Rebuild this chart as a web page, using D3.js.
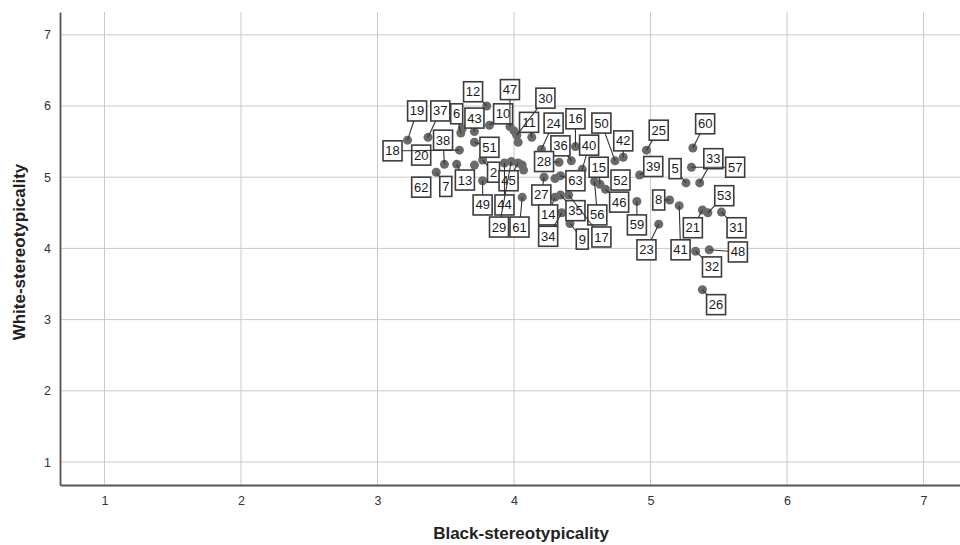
<!DOCTYPE html>
<html>
<head>
<meta charset="utf-8">
<script src="https://cdn.jsdelivr.net/npm/d3@7"></script>
<style>
  body { margin: 0; background: #fff; }
  svg { display: block; font-family: "Liberation Sans", Arial, sans-serif; }
</style>
</head>
<body>
<script>
// case ids (null = point without a visible label)
var caseIds = [12, 47, 30, 10, 43, 6, 19, 37, 38, 18, 20, 51, 13, 62, 7, 2, 49, 44, 45, 29,
  61, 11, 24, 16, 36, 40, 28, 63, 27, 14, 34, 35, 17, 9, 56, 15, 46, 50, 42, 52,
  39, 25, 60, 5, 33, 57, 8, 59, 23, 41, 21, 53, 31, 48, 32, 26,
  null, null, null, null, null, null, null];

// Black-stereotypicality (x)
var blackValues = [3.80, 3.97, 4.02, 3.82, 3.71, 3.61, 3.22, 3.37, 3.49, 3.60, 3.32, 3.71, 3.58, 3.32, 3.43, 3.77, 3.77, 3.93, 4.03, 3.98,
  4.06, 4.13, 4.20, 4.45, 4.42, 4.50, 4.33, 4.34, 4.22, 4.30, 4.35, 4.34, 4.40, 4.41, 4.59, 4.63, 4.67, 4.74, 4.80, 4.78,
  4.92, 4.97, 5.31, 5.26, 5.36, 5.30, 5.14, 4.90, 5.06, 5.21, 5.38, 5.42, 5.52, 5.43, 5.33, 5.38,
  3.62, 4.00, 4.03, 3.71, 4.06, 4.07, 4.30];

// White-stereotypicality (y)
var whiteValues = [6.00, 5.71, 5.59, 5.73, 5.64, 5.62, 5.52, 5.56, 5.18, 5.38, 5.31, 5.49, 5.18, 4.86, 5.07, 5.24, 4.95, 5.20, 5.20, 5.22,
  4.72, 5.56, 5.39, 5.43, 5.23, 5.11, 5.21, 5.02, 5.00, 4.72, 4.50, 4.75, 4.75, 4.35, 4.94, 4.90, 4.83, 5.23, 5.28, 4.96,
  5.03, 5.38, 5.41, 4.92, 4.92, 5.14, 4.68, 4.66, 4.34, 4.60, 4.54, 4.50, 4.51, 3.98, 3.96, 3.42,
  5.68, 5.65, 5.49, 5.17, 5.17, 5.10, 4.98];

// where each label box sits, in data units
var labelBlack = [3.70, 3.97, 4.23, 3.92, 3.71, 3.58, 3.29, 3.46, 3.48, 3.11, 3.32, 3.82, 3.64, 3.32, 3.50, 3.85, 3.77, 3.93, 3.96, 3.89,
  4.04, 4.11, 4.29, 4.45, 4.34, 4.55, 4.22, 4.45, 4.20, 4.25, 4.25, 4.45, 4.64, 4.50, 4.61, 4.62, 4.77, 4.64, 4.80, 4.78,
  5.02, 5.06, 5.40, 5.18, 5.46, 5.62, 5.06, 4.90, 4.97, 5.22, 5.31, 5.54, 5.63, 5.64, 5.45, 5.48];
var labelWhite = [6.20, 6.23, 6.11, 5.89, 5.83, 5.89, 5.93, 5.93, 5.52, 5.37, 5.31, 5.42, 4.96, 4.86, 4.87, 5.07, 4.61, 4.61, 4.95, 4.30,
  4.30, 5.77, 5.76, 5.82, 5.44, 5.45, 5.22, 4.95, 4.75, 4.47, 4.17, 4.53, 4.16, 4.13, 4.47, 5.14, 4.65, 5.76, 5.51, 4.96,
  5.15, 5.66, 5.75, 5.12, 5.26, 5.14, 4.68, 4.33, 3.98, 3.98, 4.29, 4.74, 4.29, 3.95, 3.74, 3.21];

var xTicks = [1, 2, 3, 4, 5, 6, 7];
var yTicks = [1, 2, 3, 4, 5, 6, 7];

var width = 960, height = 545;
var margin = {top: 12, right: 0, bottom: 60, left: 60};

var svg = d3.select("body").append("svg")
  .attr("width", width)
  .attr("height", height);

var x = d3.scaleLinear()
  .domain([0.674, 7.267])
  .range([margin.left, width - margin.right]);

var y = d3.scaleLinear()
  .domain([0.677, 7.32])
  .range([height - margin.bottom, margin.top]);

// grid
svg.append("g").selectAll("line.vgrid")
  .data(xTicks).enter().append("line")
  .attr("x1", d => x(d)).attr("x2", d => x(d))
  .attr("y1", y.range()[1]).attr("y2", y.range()[0])
  .style("stroke", "#cacaca").style("stroke-width", 1);

svg.append("g").selectAll("line.hgrid")
  .data(yTicks).enter().append("line")
  .attr("x1", x.range()[0]).attr("x2", x.range()[1])
  .attr("y1", d => y(d)).attr("y2", d => y(d))
  .style("stroke", "#cacaca").style("stroke-width", 1);

// axes, no tick marks
var xAxis = d3.axisBottom(x).tickValues(xTicks).tickSize(0).tickPadding(11).tickFormat(d3.format("d"));
var yAxis = d3.axisLeft(y).tickValues(yTicks).tickSize(0).tickPadding(9).tickFormat(d3.format("d"));

svg.append("g")
  .attr("transform", `translate(0, ${y.range()[0]})`)
  .call(xAxis)
  .call(g => g.select(".domain").style("stroke", "#555").style("stroke-width", 1.8))
  .selectAll("text").style("font-size", "12.5px").style("fill", "#333");

svg.append("g")
  .attr("transform", `translate(${x.range()[0]}, 0)`)
  .call(yAxis)
  .call(g => g.select(".domain").style("stroke", "#555").style("stroke-width", 1.8))
  .selectAll("text").style("font-size", "12.5px").style("fill", "#333");

svg.append("text")
  .attr("x", 521)
  .attr("y", 539)
  .attr("text-anchor", "middle")
  .style("font-size", "17px")
  .style("font-weight", "bold")
  .style("fill", "#222")
  .text("Black-stereotypicality");

svg.append("text")
  .attr("transform", "translate(25, 252) rotate(-90)")
  .attr("text-anchor", "middle")
  .style("font-size", "17px")
  .style("font-weight", "bold")
  .style("fill", "#222")
  .text("White-stereotypicality");

var points = caseIds.map((id, i) => ({
  id: id,
  bx: blackValues[i],
  wy: whiteValues[i],
  lx: id == null ? null : labelBlack[i],
  ly: id == null ? null : labelWhite[i]
}));

// dots
svg.append("g").selectAll("circle")
  .data(points).enter().append("circle")
  .attr("cx", d => x(d.bx))
  .attr("cy", d => y(d.wy))
  .attr("r", 4.5)
  .style("fill", "#6a6a6a");

var labelled = points.filter(d => d.id != null);
var boxH = 20;
var boxW = d => String(d.id).length > 1 ? 19 : 12;

// label boxes
var boxes = svg.append("g").selectAll("g.lab")
  .data(labelled).enter().append("g")
  .attr("transform", d => `translate(${x(d.lx)}, ${y(d.ly)})`);

boxes.append("rect")
  .attr("x", d => -boxW(d) / 2)
  .attr("y", -boxH / 2)
  .attr("width", boxW)
  .attr("height", boxH)
  .style("fill", "#fff")
  .style("stroke", "#3c3c3c")
  .style("stroke-width", 1.6);

boxes.append("text")
  .attr("y", 4.5)
  .attr("text-anchor", "middle")
  .style("font-size", "13px")
  .style("fill", "#1a1a1a")
  .text(d => d.id);

// leader lines: from the dot to the edge of its box
function edgePoint(d) {
  var cx = x(d.lx), cy = y(d.ly);
  var dx = x(d.bx) - cx, dy = y(d.wy) - cy;
  var hw = boxW(d) / 2, hh = boxH / 2;
  var s = Math.min(dx ? hw / Math.abs(dx) : Infinity, dy ? hh / Math.abs(dy) : Infinity);
  if (s >= 1) return null;
  return [cx + dx * s, cy + dy * s];
}

svg.append("g").selectAll("line.leader")
  .data(labelled.filter(d => edgePoint(d) != null)).enter().append("line")
  .attr("x1", d => x(d.bx))
  .attr("y1", d => y(d.wy))
  .attr("x2", d => edgePoint(d)[0])
  .attr("y2", d => edgePoint(d)[1])
  .style("stroke", "#333")
  .style("stroke-width", 1.1);
</script>
</body>
</html>
